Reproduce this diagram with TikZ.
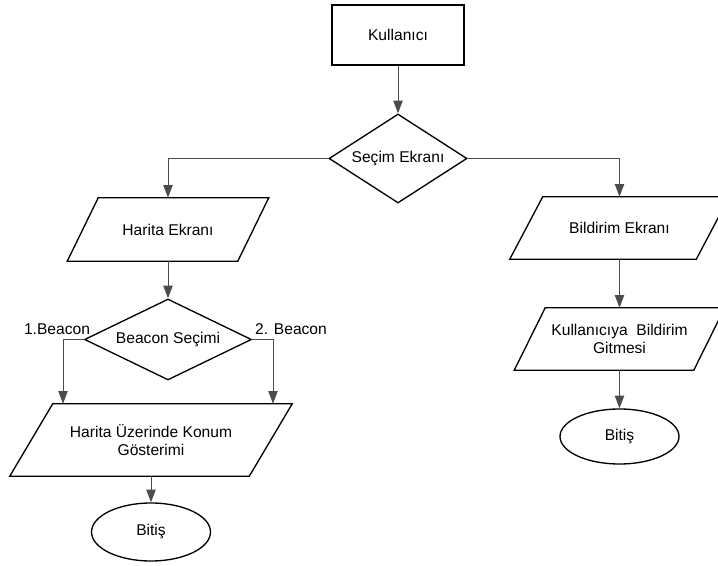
\documentclass[tikz,border=0pt]{standalone}
\usepackage{fontspec}
\setmainfont{Liberation Sans}
\usetikzlibrary{shapes.geometric,arrows.meta,calc}

\tikzset{
  box/.style={draw=black,line width=1pt,rectangle,minimum width=99pt,minimum height=45pt},
  choice/.style={draw=black,line width=1pt,diamond,inner sep=0pt},
  screen/.style={rectangle,align=center},
  outline/.style={draw=black,line width=1pt},
  stop/.style={draw=black,line width=1pt,ellipse,inner sep=0pt,minimum width=89.25pt},
  conn/.style={draw=black!70,line width=0.75pt,-{Triangle[length=9.5pt,width=7pt]}},
}
% slanted outline round a screen node: #1 node, #2 half of the slant
\newcommand{\slantbox}[2]{\draw[outline] ([xshift=#2]#1.north west) -- ([xshift=#2]#1.north east) -- ([xshift=-#2]#1.south east) -- ([xshift=-#2]#1.south west) -- cycle;}

\begin{document}
\begin{tikzpicture}[x=0.75pt,y=0.75pt,yscale=-1,xscale=1,font=\fontsize{11.7}{14}\selectfont]
\useasboundingbox (0,0) rectangle (718,566);
\clip (0,0) rectangle (718,566);

%Shape: Rectangle
\node (user) at (398,35) [box] {Kullanıcı};
%Shape: Diamond
\node (secim) at (398,158.5) [choice,aspect=1.55,minimum width=103.5pt,minimum height=66.75pt] {Seçim Ekranı};

%Shape: Parallelogram
\node (harita) at (168,229.5) [screen,minimum width=127.5pt,minimum height=47.25pt] {Harita Ekranı};
\slantbox{harita}{11.625pt}
%Shape: Parallelogram
\node (bildirim) at (619.5,228) [screen,minimum width=139.5pt,minimum height=46.5pt] {Bildirim Ekranı};
\slantbox{bildirim}{12.375pt}

%Shape: Diamond
\node (beacon) at (168,339.5) [choice,aspect=2.06,minimum width=125.25pt,minimum height=60.75pt] {Beacon Seçimi};
%Shape: Parallelogram
\node (konum) at (151,440) [screen,minimum width=179.25pt,minimum height=54pt] {Harita Üzerinde Konum\\Gösterimi};
\slantbox{konum}{16.125pt}
%Shape: Parallelogram
\node (gitme) at (619.5,339) [screen,minimum width=134.25pt,minimum height=46.5pt] {Kullanıcıya~ Bildirim\\Gitmesi};
\slantbox{gitme}{11.625pt}

%Shape: Ellipse
\node (bitisA) at (151,532) [stop,minimum height=43.5pt] {Bitiş};
%Shape: Ellipse
\node (bitisB) at (619.5,436.5) [stop,minimum height=41.25pt] {Bitiş};

% Text Node
\node (first) at (57,329) {1.Beacon};
% Text Node
\node (second) at (291,329) {2. Beacon};

\coordinate (inA) at ($(konum.north)+(-88,0)$);
\coordinate (inB) at ($(konum.north)+(122,0)$);

%Connectors
\draw [conn] (user) -- (secim);
\draw [conn] (secim.west) -| (harita);
\draw [conn] (secim.east) -| (bildirim);
\draw [conn] (harita) -- (beacon);
\draw [conn] (beacon.west) -| (inA);
\draw [conn] (beacon.east) -| (inB);
\draw [conn] (konum) -- (bitisA);
\draw [conn] (bildirim) -- (gitme);
\draw [conn] (gitme) -- (bitisB);

\end{tikzpicture}
\end{document}
